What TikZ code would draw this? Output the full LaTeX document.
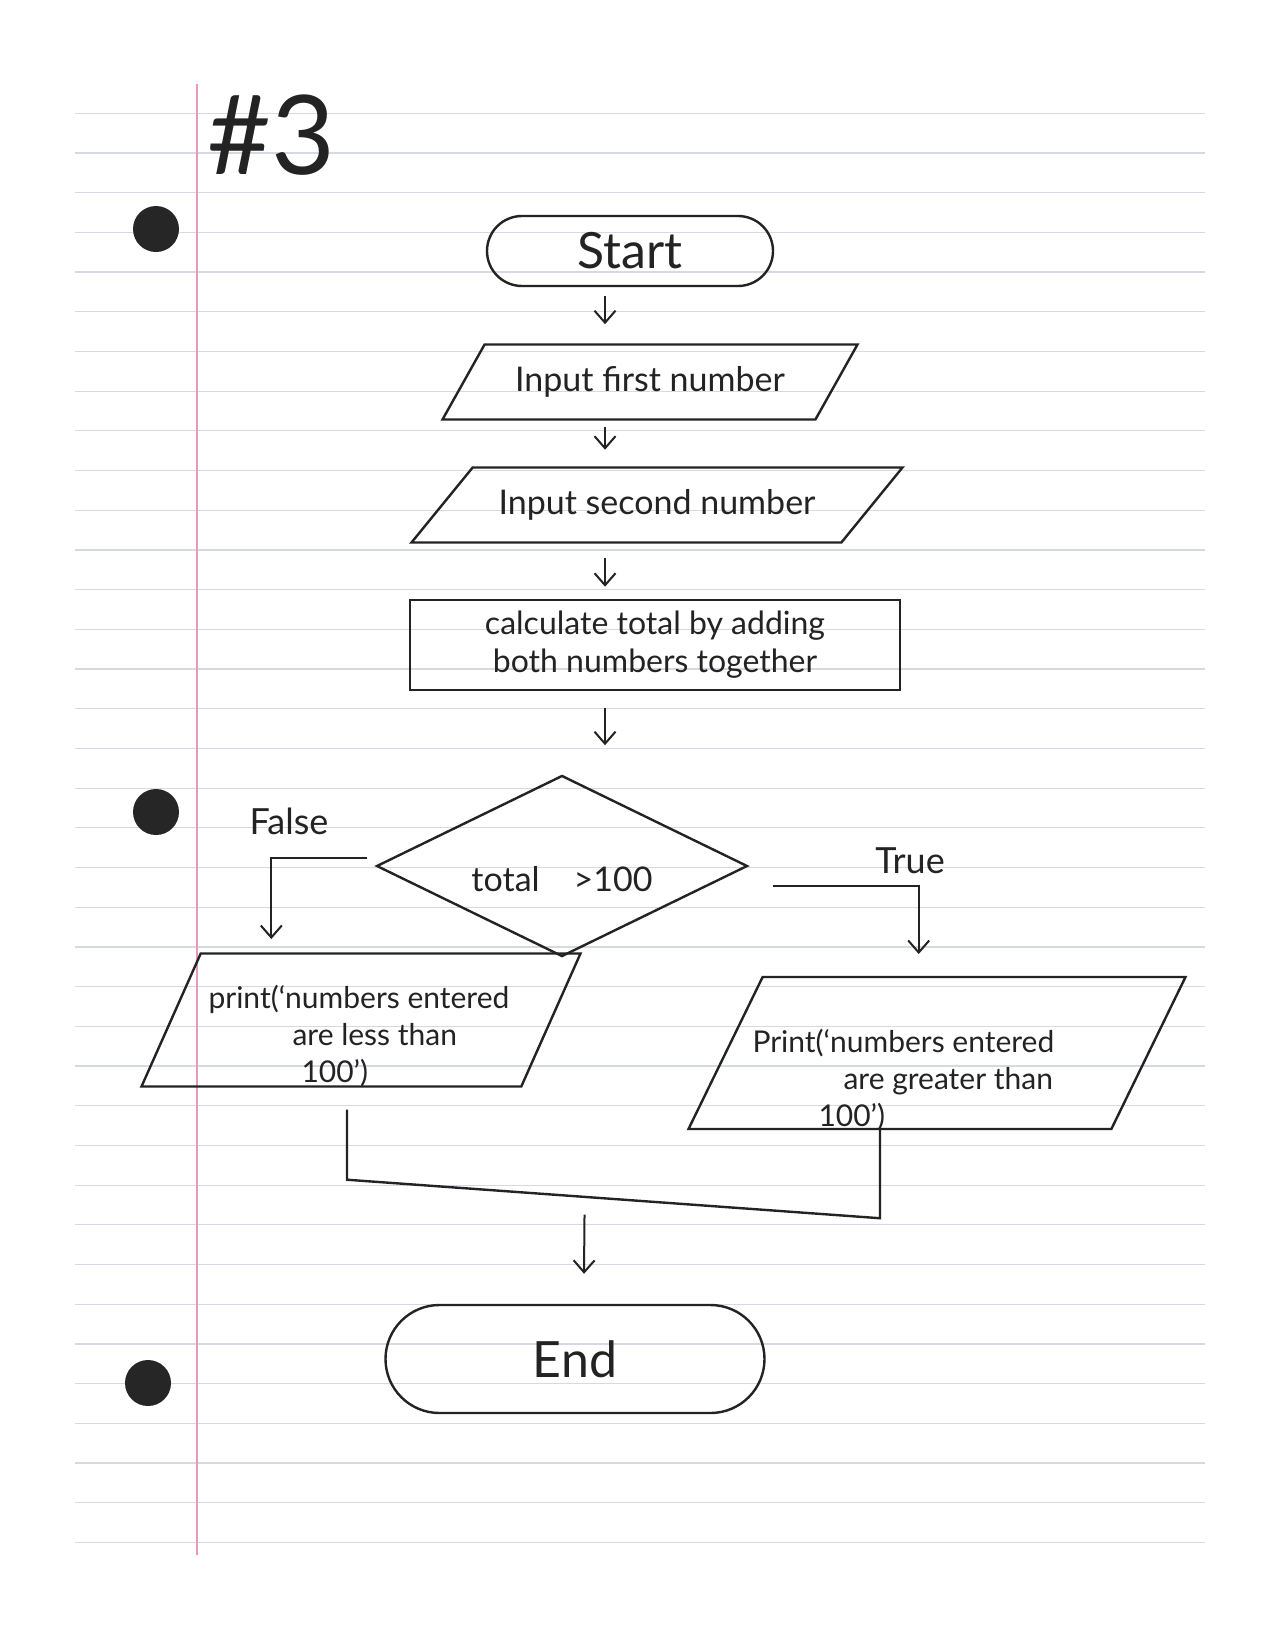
\documentclass[tikz,border=0pt]{standalone}
\usepackage{fontspec}
\setmainfont{Lato}
\usetikzlibrary{shapes.geometric,shapes.misc,arrows.meta,calc}
\definecolor{rule}{RGB}{214,218,224}
\definecolor{margin}{RGB}{236,150,190}
\definecolor{hole}{RGB}{38,38,38}
\definecolor{ink}{RGB}{35,35,35}
\begin{document}
\begin{tikzpicture}[x=1pt,y=-1pt,
  inkline/.style={line width=2.4pt, draw=ink},
  term/.style={inkline, rounded rectangle, inner sep=0pt},
  io/.style={inkline, trapezium, trapezium stretches body, inner xsep=0pt},
  proc/.style={inkline, rectangle, inner sep=0pt},
  decision/.style={inkline, diamond, inner sep=0pt},
  arr/.style={line width=2pt, draw=ink, -{Straight Barb[length=12pt,width=21pt]}},
  hand/.style={font=\fontsize{34}{40}\selectfont, text=ink},
  small/.style={font=\fontsize{30}{37}\selectfont, text=ink},
]
% page
\useasboundingbox (0,0) rectangle (1275,1650);
\fill[white] (0,0) rectangle (1275,1650);
% ruled paper
\foreach \k in {-4,...,32}{
  \draw[rule, line width=1.2pt] (75,{272+39.7*\k}) -- (1205,{272+39.7*\k});
}
\draw[margin, line width=2.5pt] (197,84) -- (197,1555);
\fill[hole] (156,229) circle (23);
\fill[hole] (156,812) circle (23);
\fill[hole] (148,1383) circle (23);

% title
\node[font=\fontsize{110}{120}\selectfont, text=ink] (title) at (271,135) {\#3};

% flowchart nodes
\node[term, minimum width=286pt, minimum height=70pt, font=\fontsize{50}{60}\selectfont, text=ink] (start) at (630,251) {Start};
\node[io, inner ysep=21pt, trapezium left angle=60, trapezium right angle=120, minimum width=415pt, minimum height=75pt, hand] (in1) at (650,382) {Input first number};
\node[io, inner ysep=21pt, trapezium left angle=50, trapezium right angle=130, minimum width=491pt, minimum height=75pt, hand] (in2) at (657,505) {Input second number};
\node[proc, minimum width=490pt, minimum height=90pt, align=center, font=\fontsize{32}{38}\selectfont, text=ink] (calc) at (655,645) {calculate total by adding\\both numbers together};
\node[decision, minimum width=371pt, minimum height=177pt, hand] (dec) at (562,866) {\raisebox{-25pt}[0pt][0pt]{total\quad \textgreater100}};
\node[io, inner ysep=66.5pt, trapezium left angle=66, trapezium right angle=114, minimum width=439pt, minimum height=133pt] (lp) at (361,1020) {};
\node[small, align=left, anchor=west] (lptext) at (205,1036) {print(`numbers entered\\\hspace*{84pt}are less than\\\hspace*{93pt}100')};
\node[io, inner ysep=76pt, trapezium left angle=64, trapezium right angle=116, minimum width=497pt, minimum height=152pt] (rp) at (937,1053) {};
\node[small, align=left, anchor=west] (rptext) at (749,1080) {Print(`numbers entered\\\hspace*{91pt}are greater than\\\hspace*{66pt}100')};
\node[term, minimum width=379pt, minimum height=108pt, font=\fontsize{50}{60}\selectfont, text=ink] (end) at (575,1359) {End};

% branch labels
\node[font=\fontsize{36}{40}\selectfont, text=ink] (lfalse) at (289,821) {False};
\node[font=\fontsize{36}{40}\selectfont, text=ink] (ltrue) at (910,861) {True};

% connectors
\draw[arr] ($(start.south)+(-25,9)$) -- ($(start.south)+(-25,37)$);
\draw[arr] ($(in1.south)+(-45,6)$) -- ++(0,23);
\draw[arr] ($(in2.south)+(-52,14)$) -- ++(0,29);
\draw[arr] ($(calc.south)+(-50,17)$) -- ++(0,37);
\draw[arr] ($(dec.west)+(-8,-8)$) -- ++(-96,0) -- ++(0,81);
\draw[arr] ($(dec.east)+(24,20)$) -- ++(146,0) -- ++(0,68);
\draw[line width=2.4pt, draw=ink] ($(lp.south)+(-14,22)$) coordinate (m1) -- ++(0,70) coordinate (m2)
  -- ($(rp.south)+(-57,88)$) coordinate (m3) -- ($(rp.south)+(-57,0)$);
\coordinate (mg) at ($(m2)!0.44!(m3)$);
\draw[arr] ($(mg)+(3,18)$) -- ($(end.north)+(9,-30)$);
\end{tikzpicture}
\end{document}
